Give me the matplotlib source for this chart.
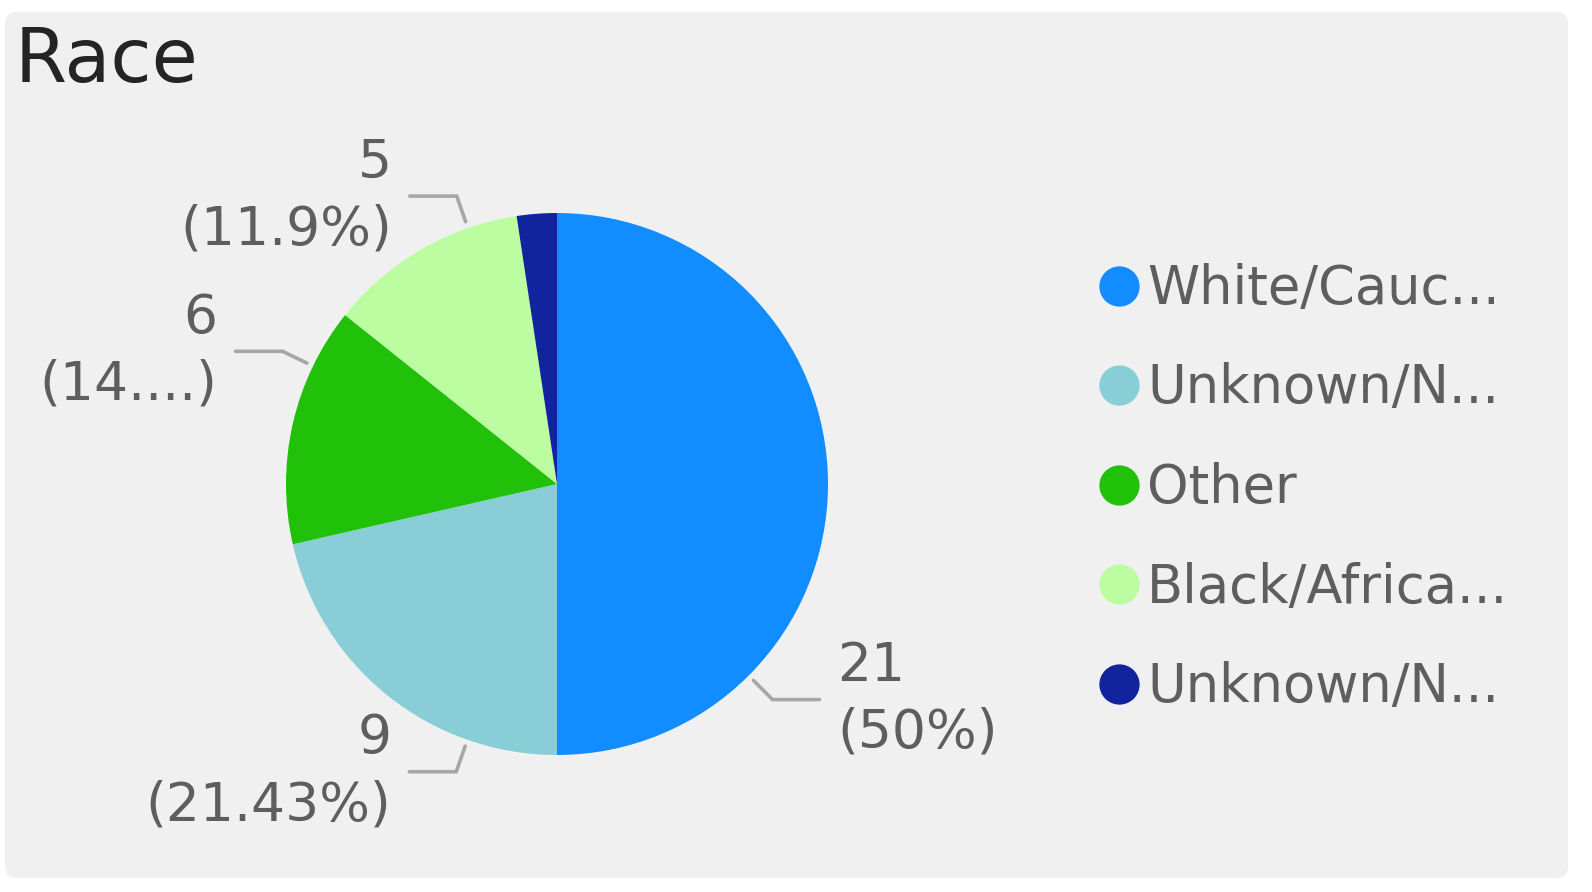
import math
import matplotlib.pyplot as plt
from matplotlib.patches import FancyBboxPatch
from matplotlib.lines import Line2D
from matplotlib.transforms import IdentityTransform

# data
categories = ["White/Cauc...", "Unknown/N...", "Other", "Black/Africa...", "Unknown/N..."]
counts = [21, 9, 6, 5, 1]
pct_labels = ["50%", "21.43%", "14....", "11.9%", None]
colors = ["#118DFF", "#89CDD7", "#21C10A", "#BBFDA0", "#12239E"]

# layout: where each leader line leaves the pie (degrees), None = no label
label_angles = [-45.0, -109.3, 154.2, 109.2, None]

W, H = 1592, 892
TEXT_COLOR = "#605E5C"
LINE_COLOR = "#A6A6A6"

fig = plt.figure(figsize=(W / 100, H / 100), dpi=100, facecolor="white")

# card background
card = FancyBboxPatch((5, 14), 1563, 866,
                      boxstyle="round,pad=0,rounding_size=12",
                      transform=IdentityTransform(),
                      facecolor="#F0F0F0", edgecolor="none", zorder=-10)
fig.add_artist(card)

fig.text(15 / W, 1 - 82 / H, "Race", fontsize=54, color="#252423",
         va="baseline", ha="left")

# pie axes: center (557, 484) px, radius 271 px
R = 271.0
cx, cy = 557.0, H - 484.0
xl, yl = 1.6, 1.45
ax = fig.add_axes([(cx - xl * R) / W, (cy - yl * R) / H,
                   2 * xl * R / W, 2 * yl * R / H], zorder=2)

wedges, _ = ax.pie(counts, colors=colors, startangle=90, counterclock=False,
                   radius=1, wedgeprops=dict(linewidth=0))
ax.set_xlim(-xl, xl)
ax.set_ylim(-yl, yl)
ax.set_aspect("auto")
ax.axis("off")

# leader lines and labels
for ang, cnt, pct in zip(label_angles, counts, pct_labels):
    if ang is None:
        continue
    a = math.radians(ang)
    x0, y0 = 1.025 * math.cos(a), 1.025 * math.sin(a)
    x1, y1 = 1.125 * math.cos(a), 1.125 * math.sin(a)
    side = 1 if math.cos(a) > 0 else -1
    x2 = x1 + side * 0.173
    ax.plot([x0, x1, x2], [y0, y1, y1], color=LINE_COLOR, lw=2.6,
            solid_capstyle="round", solid_joinstyle="miter", clip_on=False)
    ax.text(x2 + side * 0.066, y1, f"{cnt}\n({pct})",
            ha="left" if side > 0 else "right", va="center",
            fontsize=38.5, color=TEXT_COLOR, linespacing=1.36)

# legend
handles = [Line2D([], [], marker="o", ls="", markersize=29,
                  markerfacecolor=c, markeredgewidth=0) for c in colors]
fig.legend(handles, categories, loc="center left",
           bbox_to_anchor=(1099 / W, 1 - 488 / H), frameon=False,
           fontsize=38, labelcolor=TEXT_COLOR, handlelength=0.76,
           handletextpad=0.15, labelspacing=0.9, borderpad=0,
           borderaxespad=0)

fig.savefig("out.png", dpi=100, facecolor="white")
